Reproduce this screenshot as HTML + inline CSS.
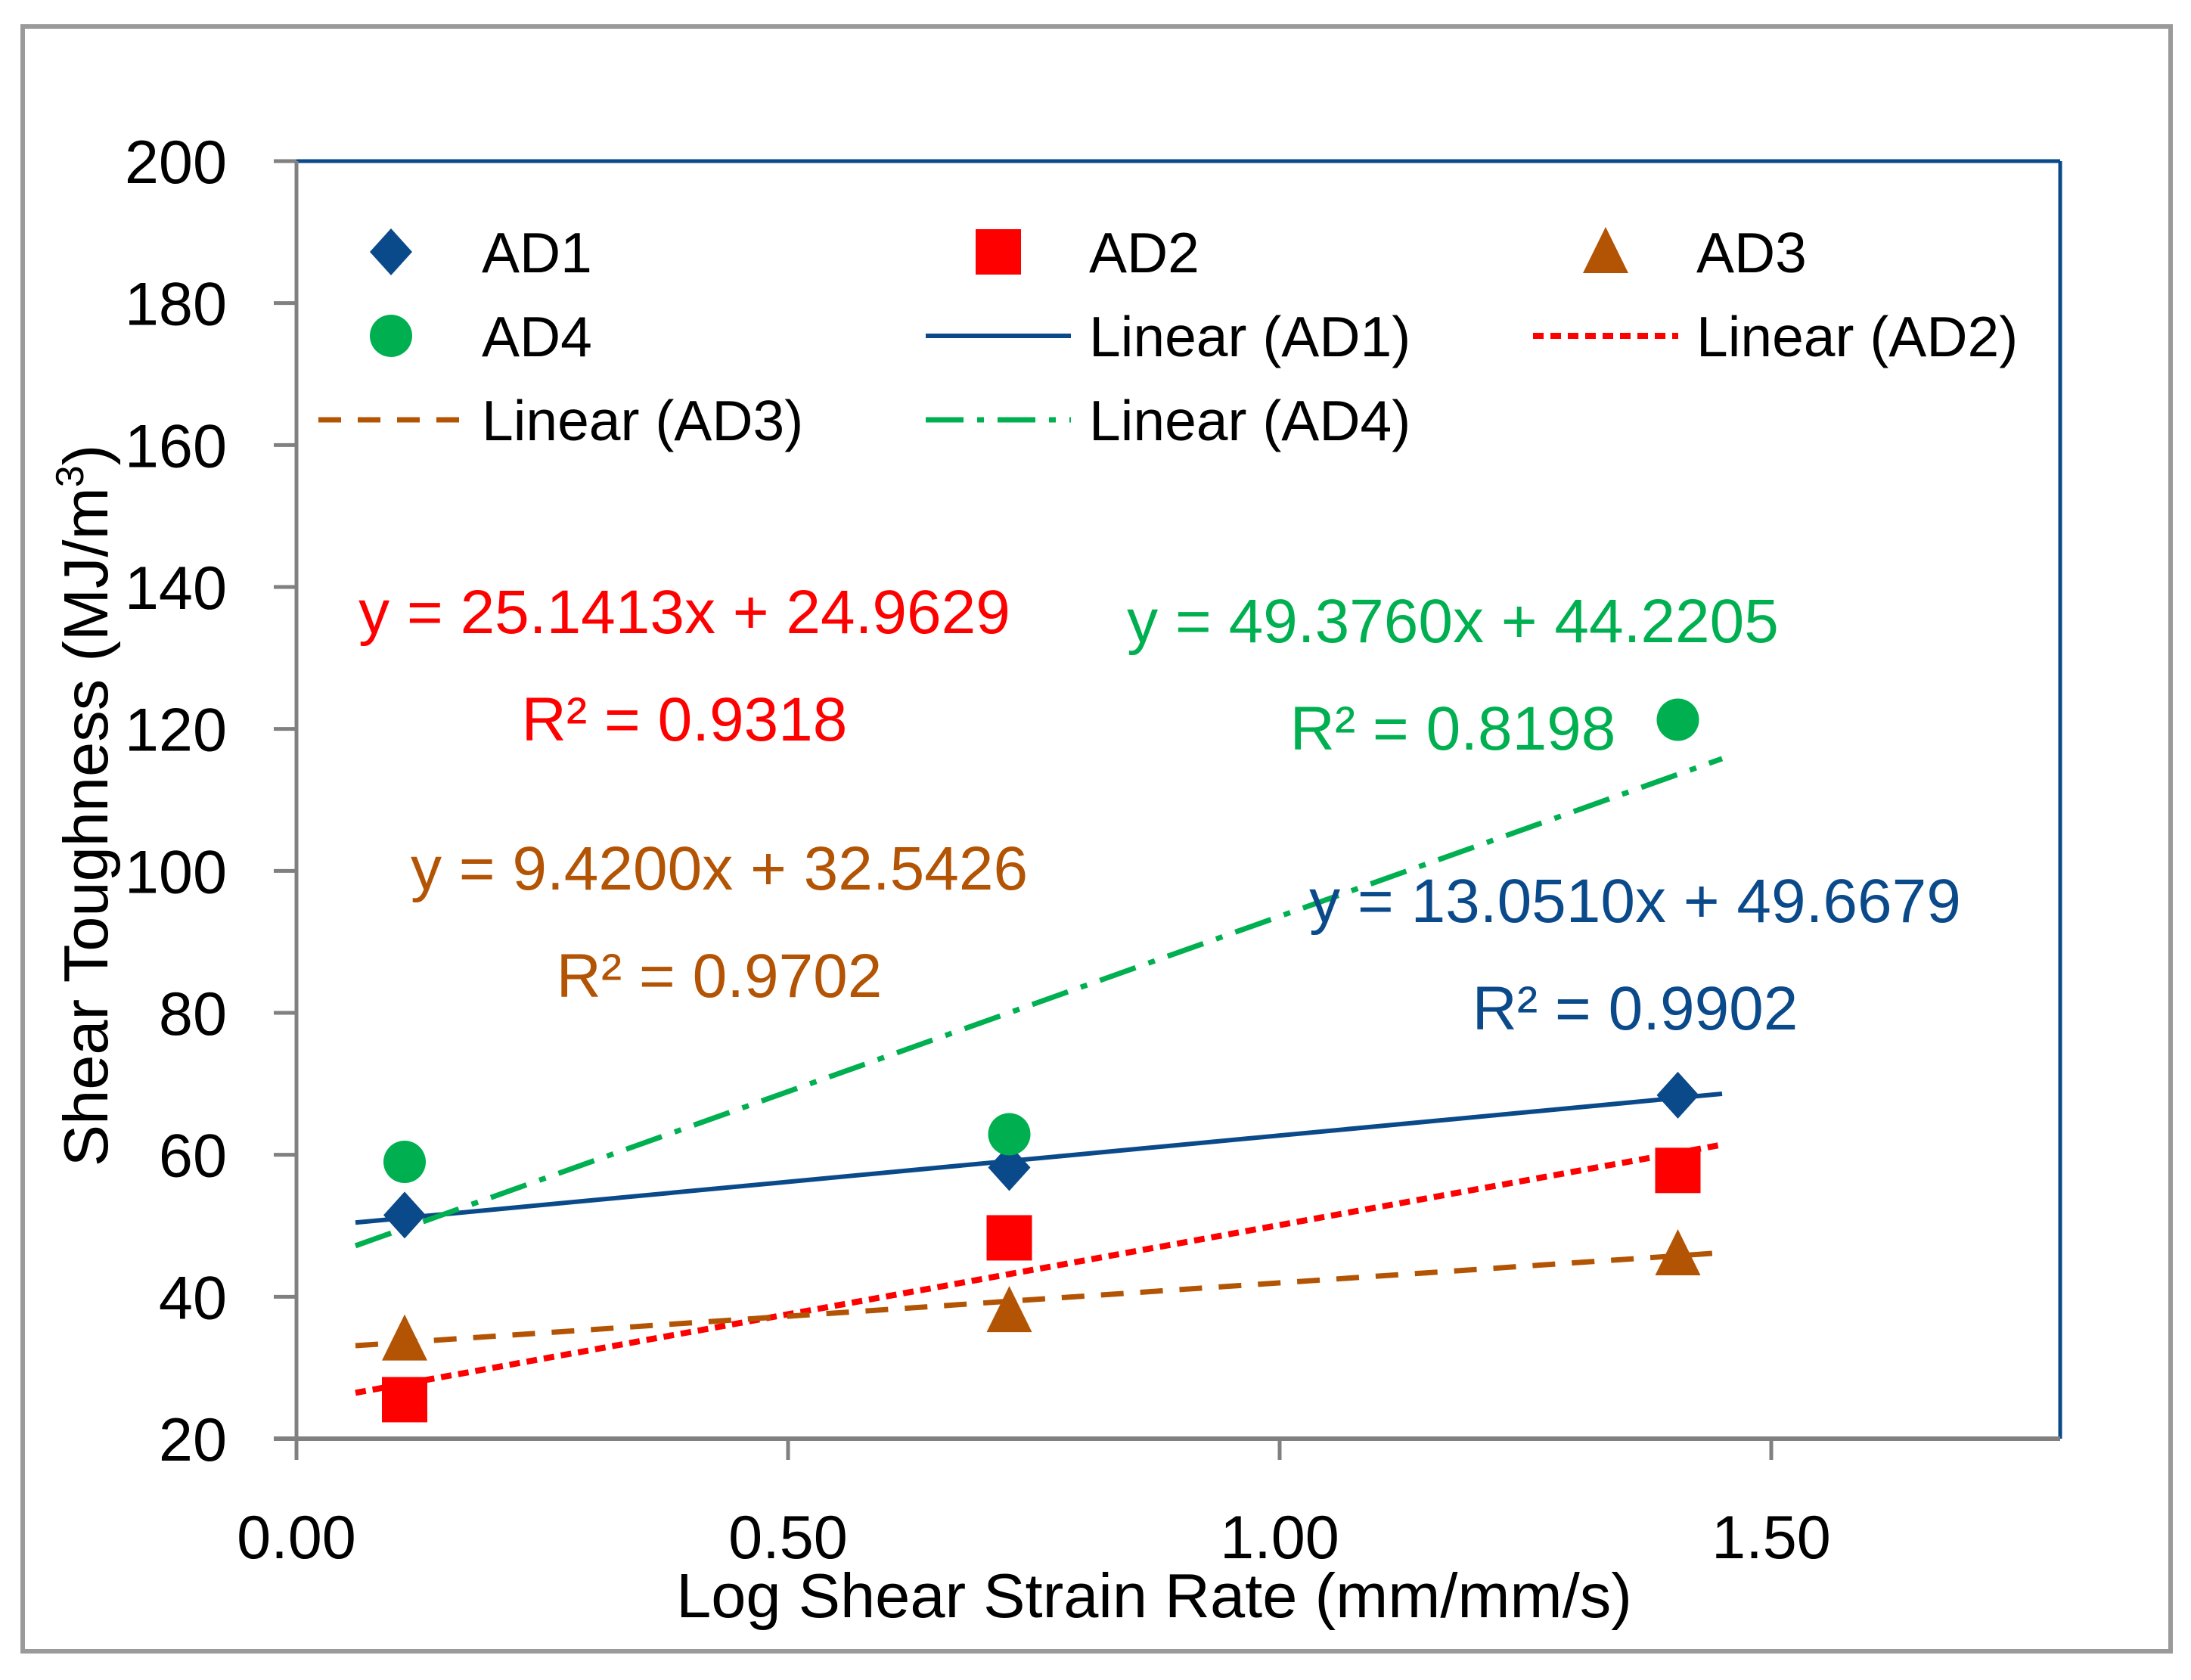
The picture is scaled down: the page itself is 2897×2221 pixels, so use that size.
<!DOCTYPE html>
<html><head><meta charset="utf-8"><style>
html,body{margin:0;padding:0;background:#fff;}
svg{display:block;font-family:"Liberation Sans",Arial,sans-serif;}
</style></head><body>
<svg id="chart" width="2897" height="2221" viewBox="0 0 2897 2221" xmlns="http://www.w3.org/2000/svg">
<rect x="0" y="0" width="2897" height="2221" fill="#fff"/>
<rect x="30" y="35" width="2840" height="2148" fill="#fff" stroke="#9a9a9a" stroke-width="6"/>
<g id="plot"></g>
</svg>
<script>
const xTicks = [0, 0.5, 1.0, 1.5];
const xTickLabels = ["0.00", "0.50", "1.00", "1.50"];
const yTicks = [20, 40, 60, 80, 100, 120, 140, 160, 180, 200];
const seriesNames = ["AD1", "AD2", "AD3", "AD4"];
const xValues = [0.11, 0.725, 1.405];
const ad1 = [51.5, 58.2, 68.4];
const ad2 = [25.5, 48.3, 57.8];
const ad3 = [34.0, 38.0, 46.0];
const ad4 = [59.0, 62.9, 121.3];
const slopes = [13.0510, 25.1413, 9.4200, 49.3760];
const intercepts = [49.6679, 24.9629, 32.5426, 44.2205];
const r2 = ["0.9902", "0.9318", "0.9702", "0.8198"];
const trendRange = [0.06, 1.45];

const NS = "http://www.w3.org/2000/svg";
const PL = 392, PR = 2724, PT = 213, PB = 1902;
const xMin = 0, yMin = 20, yMax = 200;
const xs = v => PL + (v - xMin) / 0.5 * 650;
const ys = v => PB - (v - yMin) / (yMax - yMin) * (PB - PT);
const colors = ["#0b4a8a", "#ff0000", "#b35405", "#00b050"];
const dashes = ["", "14 9", "30 22", "50 18 9 18"];
const widths = [6, 8, 7, 7];
const plotG = document.getElementById("plot");
function el(tag, attrs, parent) {
  const e = document.createElementNS(NS, tag);
  for (const k in attrs) e.setAttribute(k, attrs[k]);
  (parent || plotG).appendChild(e);
  return e;
}
function marker(kind, cx, cy, color, g) {
  let m;
  if (kind === 0) m = el("polygon", {points: `${cx},${cy-31} ${cx+28},${cy} ${cx},${cy+31} ${cx-28},${cy}`, fill: color}, g);
  else if (kind === 1) m = el("rect", {x: cx-30, y: cy-30, width: 60, height: 60, fill: color}, g);
  else if (kind === 2) m = el("polygon", {points: `${cx},${cy-33} ${cx+30},${cy+28} ${cx-30},${cy+28}`, fill: color}, g);
  else m = el("circle", {cx: cx, cy: cy, r: 28, fill: color}, g);
  return m;
}

const topBorder = el("line", {x1: PL, y1: PT, x2: PR, y2: PT, stroke: "#0b4a8a", "stroke-width": 5});


const rightBorder = el("line", {x1: PR, y1: PT, x2: PR, y2: PB, stroke: "#0b4a8a", "stroke-width": 5});


const yAxisLine = el("line", {x1: PL, y1: PT, x2: PL, y2: PB + 28, stroke: "#808080", "stroke-width": 5});


const xAxisLine = el("line", {x1: PL - 30, y1: PB, x2: PR, y2: PB, stroke: "#808080", "stroke-width": 6});



yTicks.forEach(v => {
  const t = el("line", {x1: PL - 30, y1: ys(v), x2: PL, y2: ys(v), stroke: "#808080", "stroke-width": 5});
  
  
  const lb = el("text", {x: 300, y: ys(v) + 29, "text-anchor": "end", "font-size": 81, fill: "#000"});
  lb.textContent = v;
  
  
});
xTicks.forEach((v, i) => {
  const t = el("line", {x1: xs(v), y1: PB, x2: xs(v), y2: PB + 28, stroke: "#808080", "stroke-width": 5});
  
  
  const lb = el("text", {x: xs(v), y: 2060, "text-anchor": "middle", "font-size": 81, fill: "#000"});
  lb.textContent = xTickLabels[i];
  
  
});

const xt = el("text", {x: 1526, y: 2138, "text-anchor": "middle", "font-size": 83, fill: "#000"});
xt.textContent = "Log Shear Strain Rate (mm/mm/s)";


const yt = el("text", {x: 0, y: 0, "text-anchor": "middle", "font-size": 83, fill: "#000", transform: "translate(142,1065) rotate(-90)"});


const t1 = el("tspan", {}, yt); t1.textContent = "Shear Toughness (MJ/m";
const t2 = el("tspan", {dy: -32, "font-size": 52}, yt); t2.textContent = "3";
const t3 = el("tspan", {dy: 32}, yt); t3.textContent = ")";

slopes.forEach((s, i) => {
  const a = trendRange[0], b = trendRange[1];
  const ln = el("line", {x1: xs(a), y1: ys(s * a + intercepts[i]), x2: xs(b), y2: ys(s * b + intercepts[i]), stroke: colors[i], "stroke-width": widths[i]});
  if (dashes[i]) ln.setAttribute("stroke-dasharray", dashes[i]);
  
  
});

[ad1, ad2, ad3, ad4].forEach((arr, i) => {
  arr.forEach((v, j) => {
    const m = marker(i, xs(xValues[j]), ys(v), colors[i]);
    
    
  });
});

const legend = el("g", {});


const legItems = [
  {type: "m", i: 0, col: 0, row: 0, label: "AD1"},
  {type: "m", i: 1, col: 1, row: 0, label: "AD2"},
  {type: "m", i: 2, col: 2, row: 0, label: "AD3"},
  {type: "m", i: 3, col: 0, row: 1, label: "AD4"},
  {type: "l", i: 0, col: 1, row: 1, label: "Linear (AD1)"},
  {type: "l", i: 1, col: 2, row: 1, label: "Linear (AD2)"},
  {type: "l", i: 2, col: 0, row: 2, label: "Linear (AD3)"},
  {type: "l", i: 3, col: 1, row: 2, label: "Linear (AD4)"}
];
const colX = [517, 1320, 2123], rowY = [333, 444, 555];
legItems.forEach(it => {
  const g = el("g", {}, legend);
  
  
  const cx = colX[it.col], cy = rowY[it.row];
  if (it.type === "m") marker(it.i, cx, cy, colors[it.i], g);
  else {
    const ln = el("line", {x1: cx - 96, y1: cy, x2: cx + 96, y2: cy, stroke: colors[it.i], "stroke-width": widths[it.i]}, g);
    if (dashes[it.i]) ln.setAttribute("stroke-dasharray", dashes[it.i]);
  }
  const tx = el("text", {x: cx + 120, y: cy + 27, "font-size": 75, fill: "#000"}, g);
  tx.textContent = it.label;
});

const eqPos = [[2162, 1190], [905, 808], [951, 1147], [1921, 820]];
slopes.forEach((s, i) => {
  const e = el("text", {x: eqPos[i][0], y: eqPos[i][1] + 29, "text-anchor": "middle", "font-size": 82, fill: colors[i]});
  e.textContent = "y = " + s.toFixed(4) + "x + " + intercepts[i].toFixed(4);
  
  
  const r = el("text", {x: eqPos[i][0], y: eqPos[i][1] + 171, "text-anchor": "middle", "font-size": 82, fill: colors[i]});
  r.textContent = "R² = " + r2[i];
  
  
});
</script>
</body></html>
